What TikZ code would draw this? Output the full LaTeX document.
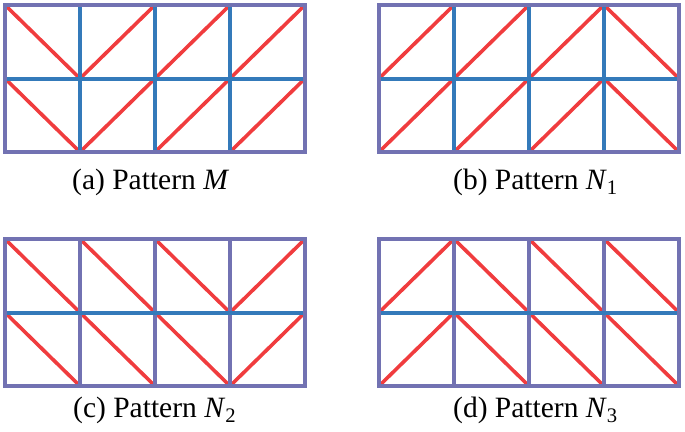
\documentclass[tikz,border=0pt]{standalone}
\usepackage{fontspec}
\setmainfont{Liberation Serif}
\definecolor{framecol}{RGB}{114,114,178}
\definecolor{gridblue}{RGB}{52,122,186}
\definecolor{diagred}{RGB}{240,60,62}
\tikzset{
  outerframe/.style={draw=framecol,line width=4.5pt},
  innerblue/.style={draw=gridblue,line width=4pt},
  innerpurple/.style={draw=framecol,line width=4pt},
  diagline/.style={draw=diagred,line width=3.6pt},
  captext/.style={font=\fontsize{29.5}{34}\selectfont,inner sep=0pt,anchor=base west}
}
% #1 x0, #2 y0, #3 four diagonal types (1 = /, 0 = \), #4 style of vertical lines
\newcommand\drawpanel[4]{%
  \foreach \d [count=\i from 0] in {#3} {
    \foreach \r in {0,1} {
      \ifnum\d=1
        \draw[diagline] (#1+\i*75,#2+\r*73.5+73.5) -- ++(75,-73.5);
      \else
        \draw[diagline] (#1+\i*75,#2+\r*73.5) -- ++(75,73.5);
      \fi
    }
  }
  \foreach \k in {1,2,3} \draw[#4] (#1+\k*75,#2) -- ++(0,147);
  \draw[innerblue] (#1,#2+73.5) -- ++(300,0);
  \draw[outerframe] (#1,#2) rectangle ++(300,147);
}
\begin{document}
\begin{tikzpicture}[x=1pt,y=-1pt]
\useasboundingbox (0,0) rectangle (685,431);
\drawpanel{5}{5}{0,1,1,1}{innerblue}
\drawpanel{379}{5}{1,1,1,0}{innerblue}
\drawpanel{5}{239}{0,0,0,1}{innerpurple}
\drawpanel{379}{239}{1,0,0,0}{innerpurple}
\node[captext] (capa) at (72,189) {(a) Pattern \textit{M}};
\node[captext] (capb) at (453,189) {(b) Pattern \textit{N}\textsubscript{1}};
\node[captext] (capc) at (73,417) {(c) Pattern \textit{N}\textsubscript{2}};
\node[captext] (capd) at (453,417) {(d) Pattern \textit{N}\textsubscript{3}};
\end{tikzpicture}
\end{document}
